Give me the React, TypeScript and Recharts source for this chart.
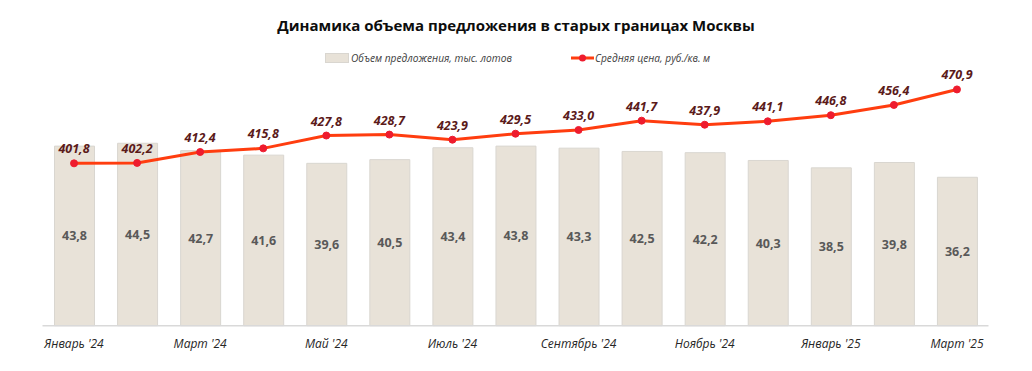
import {
  ComposedChart,
  Bar,
  Line,
  XAxis,
  YAxis,
  LabelList,
} from 'recharts';

const months = [
  "Январь '24",
  "Февраль '24",
  "Март '24",
  "Апрель '24",
  "Май '24",
  "Июнь '24",
  "Июль '24",
  "Август '24",
  "Сентябрь '24",
  "Октябрь '24",
  "Ноябрь '24",
  "Декабрь '24",
  "Январь '25",
  "Февраль '25",
  "Март '25",
];

const supply = [43.8, 44.5, 42.7, 41.6, 39.6, 40.5, 43.4, 43.8, 43.3, 42.5, 42.2, 40.3, 38.5, 39.8, 36.2];

const avgPrice = [401.8, 402.2, 412.4, 415.8, 427.8, 428.7, 423.9, 429.5, 433.0, 441.7, 437.9, 441.1, 446.8, 456.4, 470.9];

const data = months.map((m, i) => ({ month: m, supply: supply[i], price: avgPrice[i] }));

const FONT = '"Open Sans", "Noto Sans", sans-serif';
const BAR_FILL = '#e8e2d8';
const BAR_STROKE = '#d9d6d0';
const LINE_COLOR = '#ff3d0f';
const DOT_COLOR = '#ee1c2e';

const fmt = (v: number) => v.toFixed(1).replace('.', ',');

const XTick = ({ x, y, payload, index }: any) => {
  if (index % 2 !== 0) return null;
  return (
    <text
      x={x}
      y={y + 14}
      textAnchor="middle"
      fontFamily={FONT}
      fontStyle="italic"
      fontSize={12}
      fill="#262626"
    >
      {payload.value}
    </text>
  );
};

// legend drawn as plain html so it doesn't shrink the plot area
const ChartLegend = () => (
  <div
    style={{
      position: 'absolute',
      left: 0,
      top: 50,
      width: 1032,
      height: 16,
      fontFamily: FONT,
      fontStyle: 'italic',
      fontSize: 10.2,
      color: '#404040',
    }}
  >
    <div style={{ position: 'absolute', left: 325, top: 1, display: 'flex', alignItems: 'center' }}>
      <span style={{ width: 22, height: 8, background: BAR_FILL, border: `1px solid ${BAR_STROKE}`, marginRight: 2 }} />
      <span>Объем предложения, тыс. лотов</span>
    </div>
    <div style={{ position: 'absolute', left: 571, top: 1, display: 'flex', alignItems: 'center' }}>
      <svg width={23} height={10} style={{ marginRight: 1 }}>
        <line x1={0} y1={5} x2={23} y2={5} stroke={LINE_COLOR} strokeWidth={3} />
        <circle cx={11.5} cy={5} r={3.5} fill={DOT_COLOR} />
      </svg>
      <span>Средняя цена, руб./кв. м</span>
    </div>
  </div>
);

export default function App() {
  return (
    <div style={{ position: 'absolute', left: 0, top: 0, width: 1032, height: 371, background: '#fff' }}>
      <div
        style={{
          position: 'absolute',
          left: 0,
          top: 15,
          width: 1032,
          textAlign: 'center',
          fontFamily: FONT,
          fontWeight: 700,
          fontSize: 15,
          color: '#0d0d0d',
        }}
      >
        Динамика объема предложения в старых границах Москвы
      </div>
      <ChartLegend />
      <ComposedChart
        width={1032}
        height={371}
        data={data}
        margin={{ top: 79.7, right: 43.5, bottom: 15.3, left: 42.5 }}
      >
        <XAxis
          dataKey="month"
          interval={0}
          height={30}
          tickLine={false}
          axisLine={{ stroke: '#d9d9d9', strokeWidth: 1.5 }}
          tick={<XTick />}
        />
        <YAxis yAxisId="bar" domain={[0, 60]} hide />
        <YAxis yAxisId="line" orientation="right" domain={[250, 480]} hide />
        <Bar
          yAxisId="bar"
          dataKey="supply"
          barSize={40}
          fill={BAR_FILL}
          stroke={BAR_STROKE}
          strokeWidth={1}
          isAnimationActive={false}
        >
          <LabelList
            dataKey="supply"
            position="center"
            formatter={(v: any) => fmt(Number(v))}
            fill="#595959"
            fontFamily={FONT}
            fontWeight={700}
            fontSize={12.5}
          />
        </Bar>
        <Line
          yAxisId="line"
          dataKey="price"
          type="linear"
          stroke={LINE_COLOR}
          strokeWidth={3}
          dot={{ r: 3.5, fill: DOT_COLOR, stroke: DOT_COLOR, strokeWidth: 1 }}
          isAnimationActive={false}
        >
          <LabelList
            dataKey="price"
            position="top"
            offset={10}
            formatter={(v: any) => fmt(Number(v))}
            fill="#5b1a1a"
            fontFamily={FONT}
            fontStyle="italic"
            fontWeight={700}
            fontSize={12.5}
          />
        </Line>
      </ComposedChart>
    </div>
  );
}
